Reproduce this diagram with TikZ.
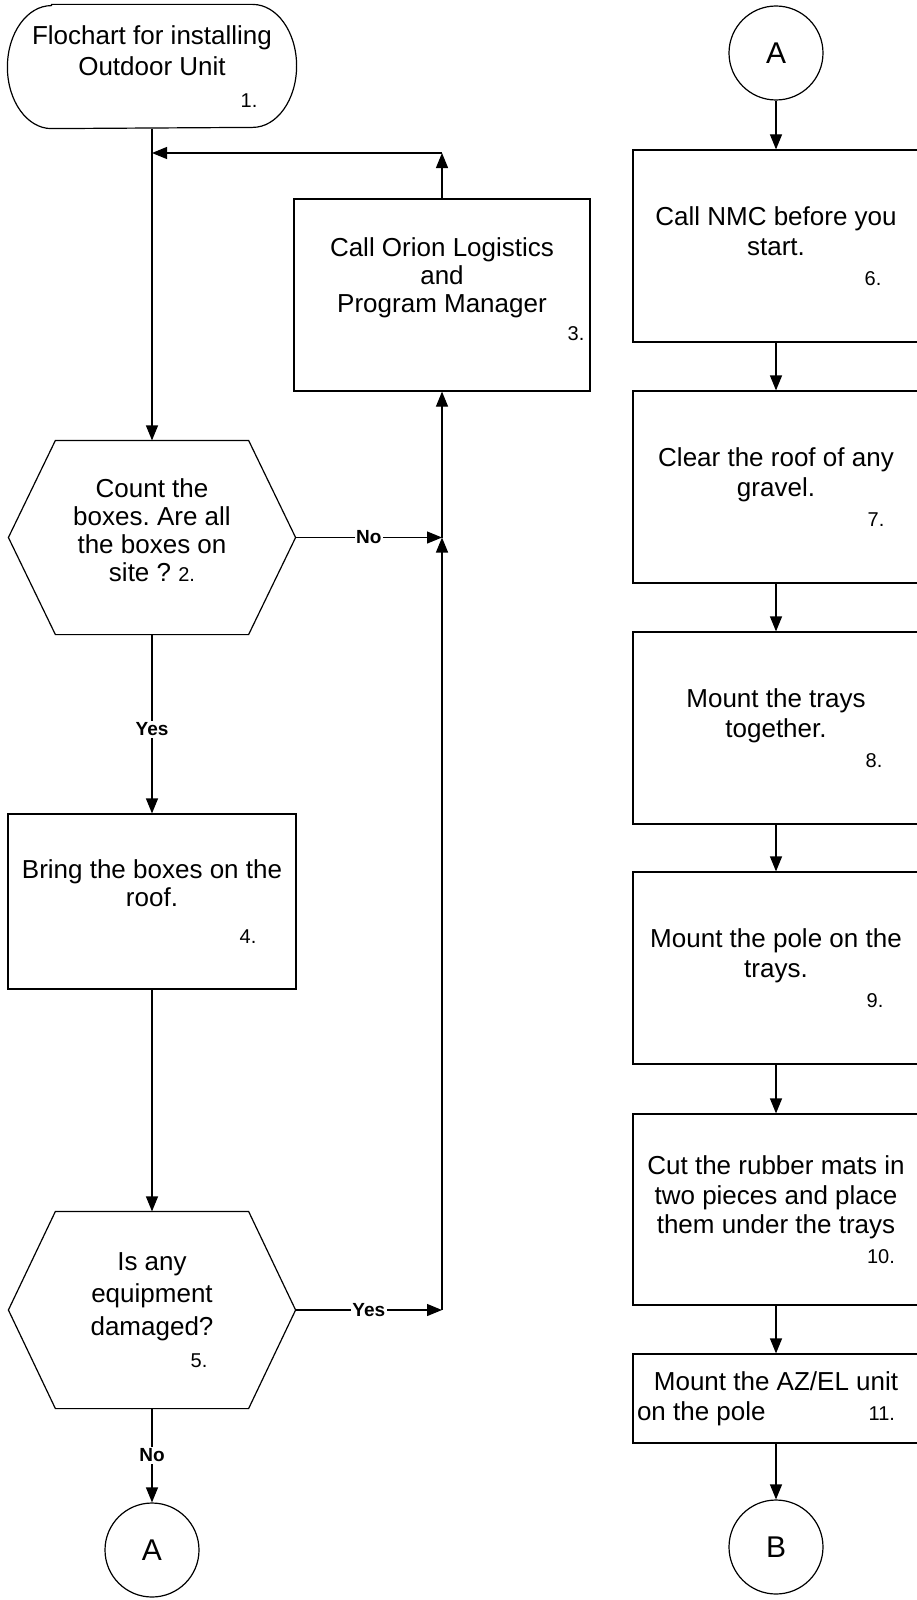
\documentclass[tikz,border=0pt]{standalone}
\usepackage{fontspec}
\setmainfont{Liberation Sans}
\usetikzlibrary{arrows.meta}
\newcommand\nf{\fontsize{20}{20}\selectfont}
\frenchspacing
\begin{document}
\begin{tikzpicture}[x=1pt,y=-1pt,
  line width=1.2pt,
  conn/.style={-{Triangle[length=15pt,width=12pt]}},
  shp/.style={rectangle,draw=none,inner sep=0pt,align=center,font=\fontsize{26}{28}\selectfont},
  boxnode/.style={rectangle,draw,inner sep=0pt,align=center,font=\fontsize{26}{30}\selectfont},
  conncirc/.style={circle,draw,minimum size=94pt,inner sep=0pt,font=\fontsize{30}{30}\selectfont},
  lbl/.style={fill=white,inner sep=1.5pt,font=\fontsize{19}{20}\selectfont\bfseries}]
\fill[white] (0,0) rectangle (917,1600);
\useasboundingbox (0,0) rectangle (917,1600);

% ---- left column ----
\node[shp,minimum width=288pt,minimum height=123pt,font=\fontsize{26}{31.5}\selectfont] (start) at (152,66.5)
  {Flochart for installing\\Outdoor Unit\\\hspace*{194pt}{\nf 1.}};
\draw ([xshift=44pt]start.north west) -- ([xshift=-44pt]start.north east)
  arc[start angle=90,end angle=-90,x radius=44pt,y radius=61.5pt]
  -- ([xshift=44pt]start.south west)
  arc[start angle=270,end angle=90,x radius=44pt,y radius=61.5pt] -- cycle;

\node[boxnode,minimum width=296pt,minimum height=192pt,font=\fontsize{26}{28}\selectfont] (box3) at (442,295)
  {Call Orion Logistics\\and\\Program Manager\\\hspace*{268pt}{\nf 3.}\rule[-11pt]{0pt}{0pt}};

\node[shp,minimum width=286pt,minimum height=193pt] (hex1) at (152,537.5)
  {Count the\\boxes. Are all\\the boxes on\\site ? {\nf 2.}\rule[-14pt]{0pt}{0pt}};
\draw (hex1.west) -- ([xshift=47pt]hex1.north west) -- ([xshift=-47pt]hex1.north east)
  -- (hex1.east) -- ([xshift=-47pt]hex1.south east) -- ([xshift=47pt]hex1.south west) -- cycle;

\node[boxnode,minimum width=288pt,minimum height=175pt,font=\fontsize{26}{28}\selectfont] (box4) at (152,901.5)
  {Bring the boxes on the\\roof.\\[9pt]\hspace*{192pt}{\nf 4.}};

\node[shp,minimum width=286pt,minimum height=196pt,font=\fontsize{26}{32.5}\selectfont] (hex2) at (152,1310)
  {Is any\\equipment\\damaged?\\\hspace*{94pt}{\nf 5.}};
\draw (hex2.west) -- ([xshift=47pt]hex2.north west) -- ([xshift=-47pt]hex2.north east)
  -- (hex2.east) -- ([xshift=-47pt]hex2.south east) -- ([xshift=47pt]hex2.south west) -- cycle;

\node[conncirc] (circA) at (152,1550) {A};

\coordinate (j1) at (152,153);
\coordinate (c1) at (442,153);
\coordinate (j2) at (442,537.5);
\coordinate (j3) at (442,1310);

\draw[conn] (start.south) -- (hex1.north);
\draw[conn] (box3.north) -- (c1);
\draw[conn] (c1) -- (j1);
\draw[conn] (hex1.east) -- node[lbl] (no1) {No} (j2);
\draw[conn] (j2) -- (box3.south);
\draw[conn] (hex2.east) -- node[lbl] (yes2) {Yes} (j3);
\draw[conn] (j3) -- (j2);
\draw[conn] (hex1.south) -- node[lbl,pos=0.53] (yes1) {Yes} (box4.north);
\draw[conn] (box4.south) -- (hex2.north);
\draw[conn] (hex2.south) -- node[lbl] (no2) {No} (circA.north);

% ---- right column ----
\node[conncirc] (circA2) at (776,53) {A};
\node[boxnode,minimum width=286pt,minimum height=192pt] (box6) at (776,246)
  {Call NMC before you\\start.\\\hspace*{194pt}{\nf 6.}};
\node[boxnode,minimum width=286pt,minimum height=192pt] (box7) at (776,487)
  {Clear the roof of any\\gravel.\\\hspace*{200pt}{\nf 7.}};
\node[boxnode,minimum width=286pt,minimum height=192pt] (box8) at (776,728)
  {Mount the trays\\together.\\\hspace*{196pt}{\nf 8.}};
\node[boxnode,minimum width=286pt,minimum height=192pt] (box9) at (776,968)
  {Mount the pole on the\\trays.\\\hspace*{198pt}{\nf 9.}};
\node[boxnode,minimum width=286pt,minimum height=191pt,font=\fontsize{26}{29.5}\selectfont] (box10) at (776,1209.5)
  {Cut the rubber mats in\\two pieces and place\\them under the trays\\\hspace*{210pt}{\nf 10.}};
\node[boxnode,minimum width=286pt,minimum height=89pt,font=\fontsize{26}{30}\selectfont] (box11) at (776,1398.5)
  {Mount the AZ/EL unit\\\makebox[258pt][l]{on the pole\hfill{\nf 11.}}\hspace*{20pt}};
\node[conncirc] (circB) at (776,1547) {B};

\draw[conn] (circA2.south) -- (box6.north);
\draw[conn] (box6.south) -- (box7.north);
\draw[conn] (box7.south) -- (box8.north);
\draw[conn] (box8.south) -- (box9.north);
\draw[conn] (box9.south) -- (box10.north);
\draw[conn] (box10.south) -- (box11.north);
\draw[conn] (box11.south) -- (circB.north);
\end{tikzpicture}
\end{document}
